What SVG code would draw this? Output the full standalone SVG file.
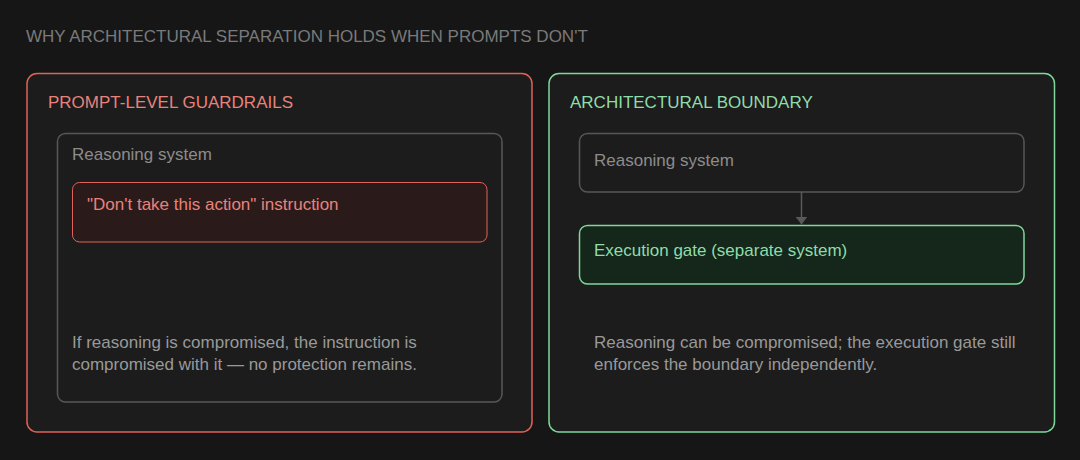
<svg xmlns="http://www.w3.org/2000/svg" width="1080" height="460" viewBox="0 0 1080 460">
<defs>
<style>
text{font-family:"Liberation Sans",Arial,sans-serif;font-size:17px}
.title{fill:#7a7a7a}
.panel{fill:#1c1c1c;stroke-width:1.5}
.red{stroke:#e0625a}
.green{stroke:#7fd89b}
.inner{fill:#1c1c1c;stroke:#575757;stroke-width:1.5}
.lbl-red{fill:#e8837b}
.lbl-green{fill:#8fdcaa}
.gray{fill:#8c8c8c}
.note{fill:#999999}
</style>
<marker id="arr" viewBox="0 0 8 12" refX="8" refY="6" markerWidth="8" markerHeight="12" markerUnits="userSpaceOnUse" orient="auto">
<path d="M0,0 L8,6 L0,12 Z" fill="#5a5a5a"/>
</marker>
</defs>
<rect width="1080" height="460" fill="#161616"/>
<text class="title" x="26" y="42">WHY ARCHITECTURAL SEPARATION HOLDS WHEN PROMPTS DON'T</text>

<g id="prompt-panel">
<rect class="panel red" x="27" y="73.5" width="505" height="358.5" rx="10"/>
<text class="lbl-red" x="48" y="108">PROMPT-LEVEL GUARDRAILS</text>
</g>
<g id="left-reasoning">
<rect class="inner" x="57.5" y="133.5" width="444.5" height="268.5" rx="8"/>
<text class="gray" x="72" y="160">Reasoning system</text>
<text class="note" x="72" y="348">If reasoning is compromised, the instruction is</text>
<text class="note" x="72" y="370">compromised with it — no protection remains.</text>
</g>
<g id="instruction">
<rect x="72.5" y="182.5" width="414.5" height="59.5" rx="7" fill="#2a1a1a" stroke="#e0625a" stroke-width="1"/>
<text class="lbl-red" x="87" y="210">"Don't take this action" instruction</text>
</g>

<g id="arch-panel">
<rect class="panel green" x="549" y="73.5" width="505.5" height="358.5" rx="10"/>
<text class="lbl-green" x="570" y="108">ARCHITECTURAL BOUNDARY</text>
<text class="note" x="594" y="348">Reasoning can be compromised; the execution gate still</text>
<text class="note" x="594" y="370">enforces the boundary independently.</text>
</g>
<g id="right-reasoning">
<rect class="inner" x="579.5" y="133.5" width="444.5" height="58.5" rx="8"/>
<text class="gray" x="594" y="166">Reasoning system</text>
</g>
<g id="gate">
<rect x="579.5" y="225.5" width="444.5" height="58.5" rx="8" fill="#14271a" stroke="#7fd89b" stroke-width="1.5"/>
<text class="lbl-green" x="594" y="256">Execution gate (separate system)</text>
</g>

<g id="connectors">
<line x1="801.5" y1="192" x2="801.5" y2="224.5" stroke="#5a5a5a" stroke-width="1.5" marker-end="url(#arr)"/>
</g>
</svg>
